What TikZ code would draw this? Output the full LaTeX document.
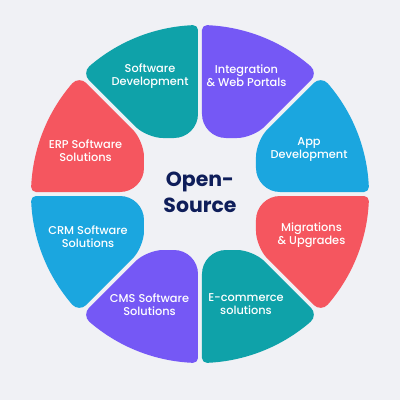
\documentclass[tikz,border=0pt]{standalone}
\usepackage{fontspec}
\setmainfont{Poppins}[UprightFont=* Medium, BoldFont=* Bold]
\usepackage{xcolor}
\definecolor{colBg}{HTML}{F0F1F5}
\definecolor{colTeal}{HTML}{0FA2A9}
\definecolor{colPurple}{HTML}{7558F5}
\definecolor{colBlue}{HTML}{1BA6DF}
\definecolor{colRed}{HTML}{F5565F}
\definecolor{colNavy}{HTML}{0F1E5A}
\usepackage{tikz}

% one ring segment, drawn between the 90 and 135 degree gaps
\newcommand{\petalpath}{%
  (-2,80) -- (-2,164)
  .. controls (-2,166.75) and (-4.26,168.93) .. (92.38:169)
  arc[start angle=92.38, end angle=130.93, radius=169]
  .. controls (-114.78,123.94) and (-114.90,117.72) .. (-111.01,113.83)
  -- (-64.48,67.31)
  .. controls (-58.26,61.09) and (-45.97,56) .. (-37.17,56)
  -- (-26,56)
  .. controls (-12.8,56) and (-2,66.8) .. (-2,80) -- cycle}

\begin{document}
\begin{tikzpicture}[x=1bp, y=1bp,
    lbl/.style={text=white, align=center, inner sep=0pt,
      font=\fontsize{11.4}{13}\selectfont},
    core/.style={text=colNavy, align=center, inner sep=0pt,
      font=\bfseries\fontsize{20.5}{26}\selectfont}]
  % Sfondo
  \fill[colBg] (-200,-206) rectangle (200,194);
  \useasboundingbox (-200,-206) rectangle (200,194);

  % === Segmenti (senso orario dall'alto) ===
  \fill[colTeal]                        \petalpath; % Software Development
  \fill[colPurple, xscale=-1]           \petalpath; % Integration
  \fill[colBlue, rotate=-90]            \petalpath; % App Development
  \fill[colRed, rotate=-90, xscale=-1]  \petalpath; % Migrations
  \fill[colTeal, rotate=180]            \petalpath; % E-commerce
  \fill[colPurple, rotate=180, xscale=-1] \petalpath; % CMS
  \fill[colBlue, rotate=90]             \petalpath; % CRM
  \fill[colRed, rotate=90, xscale=-1]   \petalpath; % ERP

  % Etichette
  \node[lbl] (softdev) at (-50,118)    {Software\\Development};
  \node[lbl] (integ)   at (46.5,118)   {Integration\\\& Web Portals};
  \node[lbl] (appdev)  at (109,44)     {App\\Development};
  \node[lbl] (migr)    at (111.5,-41.5) {Migrations\\\& Upgrades};
  \node[lbl] (ecom)    at (46,-110.5)  {E-commerce\\solutions};
  \node[lbl] (cms)     at (-50.5,-110.5) {CMS Software\\Solutions};
  \node[lbl] (crm)     at (-112,-42.5) {CRM Software\\Solutions};
  \node[lbl] (erp)     at (-114.5,43.5) {ERP Software\\Solutions};

  % Centro
  \node[core] (oss) at (0,2) {Open-\\Source};
\end{tikzpicture}
\end{document}
